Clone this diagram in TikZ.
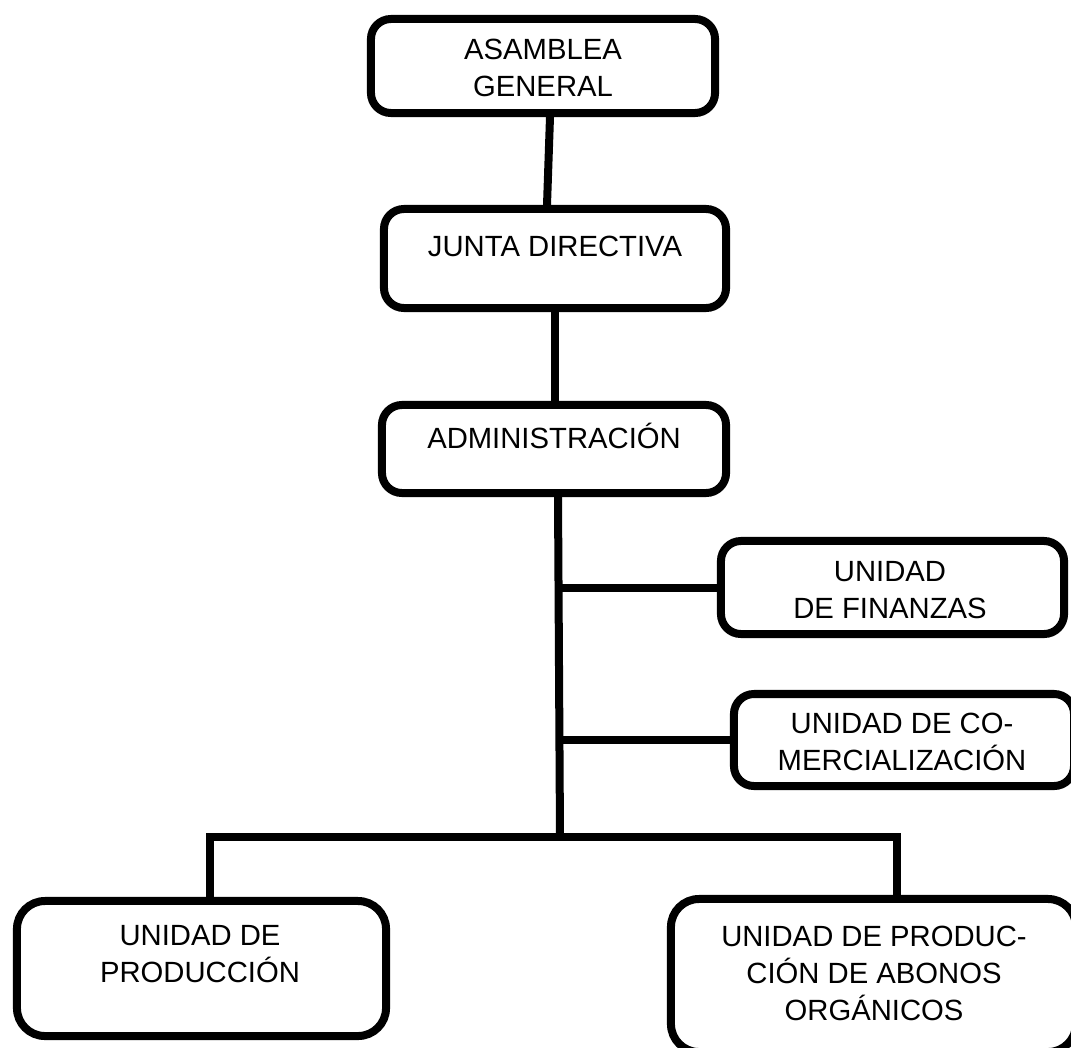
\documentclass[tikz,border=0pt]{standalone}
\usepackage{fontspec}
\setmainfont{Liberation Sans}
\usepackage{tikz}
\usetikzlibrary{calc}

\tikzset{
  caja/.style={draw, line width=0.2cm, rounded corners=0.5cm, inner sep=0pt},
  texto/.style={align=center, font=\fontsize{20.8}{26.2}\selectfont},
  linea/.style={line width=0.2cm}
}

\begin{document}
\begin{tikzpicture}[x=0.025cm, y=-0.025cm]
    \useasboundingbox (0,0) rectangle (1071,1047);

    % cajas
    \node (asamblea) [caja, minimum width=8.6cm, minimum height=2.35cm] at (543,66) {};
    \node (junta) [caja, minimum width=8.55cm, minimum height=2.475cm] at (555,258.5) {};
    \node (admin) [caja, minimum width=8.6cm, minimum height=2.2cm] at (554,449) {};
    \node (finanzas) [caja, minimum width=8.575cm, minimum height=2.325cm] at (892.5,587.5) {};
    \node (comerc) [caja, minimum width=8.5cm, minimum height=2.3cm] at (904,740) {};
    \node (produccion) [caja, rounded corners=0.7cm, minimum width=9.225cm, minimum height=3.375cm] at (201.5,968.5) {};
    \node (abonos) [caja, rounded corners=0.7cm, minimum width=10.125cm, minimum height=3.825cm] at (873.5,975.5) {};

    % textos
    \node (asambleaT) [texto] at (543,68) {ASAMBLEA\\GENERAL};
    \node (juntaT) [texto] at (555,246) {JUNTA DIRECTIVA};
    \node (adminT) [texto] at (554,436) {ADMINISTRACIÓN};
    \node (finanzasT) [texto] at (890,590) {UNIDAD\\DE FINANZAS};
    \node (comercT) [texto] at (902,742) {UNIDAD DE CO-\\MERCIALIZACIÓN};
    \node (produccionT) [texto] at (200,954) {UNIDAD DE\\PRODUCCIÓN};
    \node (abonosT) [texto] at (874,973.5) {UNIDAD DE PRODUC-\\CIÓN DE ABONOS\\ORGÁNICOS};

    % lineas
    \coordinate (bifurca) at (560,837);
    \coordinate (izq) at (210,837);
    \coordinate (der) at (897,837);

    \draw[linea] ($(asamblea.south)+(7,0)$) -- ($(junta.north)+(-8,0)$);
    \draw[linea] (junta.south) -- (junta.south |- admin.north);
    \draw[linea] ($(admin.south)+(4,0)$) -- (bifurca);
    \draw[linea] (finanzas.west -| bifurca) -- (finanzas.west);
    \draw[linea] (comerc.west -| bifurca) -- (comerc.west);
    \draw[linea] (izq |- produccion.north) -- (izq) -- (der) -- (der |- abonos.north);
\end{tikzpicture}
\end{document}
